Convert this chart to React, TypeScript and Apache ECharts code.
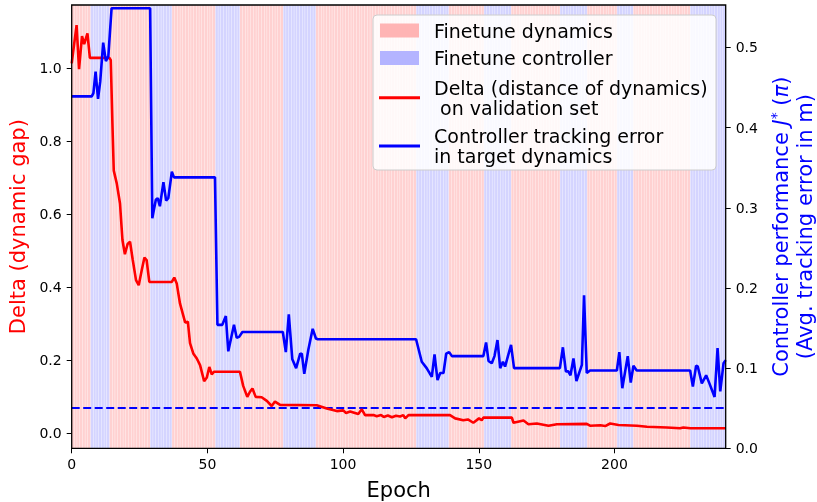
import React, { useEffect, useRef } from 'react';
import * as echarts from 'echarts';

const FONT = 'DejaVu Sans';

const deltaEpochs = [0, 1.8, 2.7, 3.8, 4.6, 5.8, 6.7, 13.9, 14.4, 15.0, 15.5, 16.6, 17.8, 18.7, 19.6, 20.6, 21.5, 22.5, 23.7, 24.7, 25.8, 26.8, 27.6, 28.6, 36.9, 37.8, 38.7, 39.9, 40.9, 41.8, 42.8, 43.6, 44.8, 46.1, 47.3, 48.8, 49.8, 50.7, 51.6, 52.5, 62, 63.2, 64.7, 65.7, 66.6, 67.8, 70, 71.9, 73.7, 74.9, 76.8, 90.3, 94, 97.7, 100, 101.1, 102.6, 105.6, 106.9, 108.1, 111.2, 112.4, 114, 115, 116.5, 118, 119.5, 121, 122.2, 122.9, 124.1, 139.4, 141.3, 144.3, 146, 148, 150.1, 151.1, 151.7, 162.2, 162.8, 166.5, 168.3, 171.4, 175.7, 178.8, 189.8, 191, 194.8, 196.6, 198.4, 201.5, 208.3, 212, 219.3, 224.2, 225.4, 228, 241];
const deltaValues = [1.014, 1.119, 0.998, 1.089, 1.067, 1.096, 1.029, 1.029, 1.023, 0.85, 0.72, 0.685, 0.63, 0.53, 0.491, 0.519, 0.525, 0.475, 0.42, 0.406, 0.447, 0.482, 0.475, 0.415, 0.415, 0.427, 0.411, 0.356, 0.329, 0.304, 0.306, 0.247, 0.219, 0.205, 0.187, 0.143, 0.153, 0.182, 0.162, 0.169, 0.169, 0.13, 0.1, 0.114, 0.123, 0.1, 0.099, 0.089, 0.075, 0.087, 0.078, 0.077, 0.068, 0.061, 0.063, 0.056, 0.06, 0.053, 0.066, 0.05, 0.05, 0.047, 0.05, 0.045, 0.049, 0.044, 0.048, 0.046, 0.05, 0.041, 0.05, 0.05, 0.041, 0.036, 0.038, 0.029, 0.041, 0.036, 0.043, 0.043, 0.029, 0.035, 0.025, 0.027, 0.021, 0.025, 0.026, 0.021, 0.022, 0.02, 0.027, 0.023, 0.021, 0.018, 0.016, 0.014, 0.016, 0.014, 0.014];

const ctrlEpochs = [0, 7.4, 8, 8.8, 9.7, 10.5, 11.6, 12.6, 13.5, 14.7, 28.9, 29.7, 31, 31.7, 32.5, 33.8, 34.8, 35.6, 36.9, 37.7, 52.8, 53.7, 55.5, 56.8, 57.7, 59.8, 60.8, 61.7, 62.9, 77.8, 78.9, 80, 81.3, 82.7, 84.2, 84.8, 85.7, 87.2, 88.8, 90, 90.7, 126.9, 129, 130.8, 132.7, 133.7, 134.8, 135.8, 137, 138, 139.1, 140.1, 151.7, 152.7, 153.6, 154.8, 155.8, 156.9, 157.9, 158.9, 159.7, 161.9, 163, 179.9, 181, 182.1, 183, 183.8, 184.9, 186, 188, 188.8, 189.8, 191, 200.9, 201.8, 202.9, 204.9, 206, 207, 208.2, 227.9, 228.9, 230.1, 230.7, 232.2, 233.8, 235, 236.9, 238, 239, 240.2, 241];
const ctrlValues = [0.439, 0.439, 0.443, 0.47, 0.436, 0.457, 0.506, 0.483, 0.489, 0.549, 0.549, 0.287, 0.31, 0.312, 0.302, 0.332, 0.309, 0.312, 0.345, 0.338, 0.338, 0.154, 0.154, 0.165, 0.121, 0.154, 0.138, 0.139, 0.145, 0.145, 0.12, 0.167, 0.111, 0.1, 0.118, 0.118, 0.093, 0.123, 0.149, 0.137, 0.136, 0.136, 0.108, 0.1, 0.089, 0.117, 0.085, 0.094, 0.094, 0.118, 0.12, 0.115, 0.115, 0.132, 0.109, 0.106, 0.115, 0.135, 0.1, 0.108, 0.102, 0.129, 0.1, 0.1, 0.126, 0.096, 0.096, 0.091, 0.112, 0.084, 0.104, 0.191, 0.094, 0.097, 0.097, 0.12, 0.075, 0.115, 0.082, 0.103, 0.097, 0.097, 0.077, 0.103, 0.102, 0.081, 0.091, 0.081, 0.064, 0.125, 0.071, 0.106, 0.11];

const controllerPhases = [[7, 14], [29, 37], [53, 62], [78, 90], [127, 139], [152, 162], [180, 190], [201, 207], [228, 241]];
const totalEpochs = 241;
const trackingThreshold = 0.05;
const xTicks = [0, 50, 100, 150, 200];
const leftTicks = [0, 0.2, 0.4, 0.6, 0.8, 1.0];
const rightTicks = [0, 0.1, 0.2, 0.3, 0.4, 0.5];

const legendItems = [
  { kind: 'patch', color: '#ffb4b4', label: 'Finetune dynamics' },
  { kind: 'patch', color: '#b4b4ff', label: 'Finetune controller' },
  { kind: 'line', color: '#ff0000', label: 'Delta (distance of dynamics)\n on validation set' },
  { kind: 'line', color: '#0000ff', label: 'Controller tracking error\nin target dynamics' },
];

export default function App() {
  const ref = useRef<HTMLDivElement>(null);
  useEffect(() => {
    if (!ref.current) return;
    const chart = echarts.init(ref.current, undefined, { renderer: 'svg' });

    const bgData: number[][] = [];
    for (let e = 0; e < totalEpochs; e++) {
      const isCtrl = controllerPhases.some(([a, b]) => e >= a && e < b) ? 1 : 0;
      bgData.push([e, isCtrl]);
    }

    const legendY = [30.5, 58, 97.7, 146];
    const legendGraphics: any[] = [
      {
        type: 'rect', shape: { x: 373, y: 15, width: 343, height: 155, r: 4 },
        style: { fill: 'rgba(255,255,255,0.85)', stroke: '#cccccc', lineWidth: 1 }, z: 100,
      },
    ];
    legendItems.forEach((it, i) => {
      const cy = legendY[i];
      if (it.kind === 'patch') {
        legendGraphics.push({ type: 'rect', shape: { x: 380, y: cy - 7, width: 39, height: 14 }, style: { fill: it.color }, z: 101 });
      } else {
        legendGraphics.push({ type: 'line', shape: { x1: 379, y1: cy, x2: 420, y2: cy }, style: { stroke: it.color, lineWidth: 3 }, z: 101 });
      }
      legendGraphics.push({
        type: 'text', x: 434, y: cy, z: 101,
        style: { text: it.label, font: `19px "${FONT}"`, fill: '#000', verticalAlign: 'middle', align: 'left', lineHeight: 20 },
      });
    });

    const option: any = {
      animation: false,
      textStyle: { fontFamily: FONT },
      grid: { left: 71.7, right: 91.3, top: 5, bottom: 53.7, show: true, borderColor: '#000', borderWidth: 1.3, backgroundColor: 'transparent', z: 10, outerBoundsMode: 'none' },
      xAxis: {
        type: 'value', min: 0, max: totalEpochs, interval: 50,
        name: 'Epoch', nameLocation: 'middle', nameGap: 31,
        nameTextStyle: { fontSize: 21, fontFamily: FONT, color: '#000' },
        axisLine: { show: false, onZero: false },
        axisTick: { show: true, length: 5, lineStyle: { color: '#000' }, customValues: xTicks },
        axisLabel: { fontSize: 14, fontFamily: FONT, color: '#000', margin: 9, customValues: xTicks },
        splitLine: { show: false },
      },
      yAxis: [
        {
          type: 'value', min: -0.041, max: 1.174, position: 'left',
          name: 'Delta (dynamic gap)', nameLocation: 'middle', nameRotate: 90, nameGap: 43,
          nameTextStyle: { fontSize: 21, fontFamily: FONT, color: '#ff0000' },
          axisLine: { show: false, onZero: false },
          axisTick: { show: true, length: 5, lineStyle: { color: '#000' }, customValues: leftTicks },
          axisLabel: { fontSize: 14, fontFamily: FONT, color: '#000', margin: 10, customValues: leftTicks, formatter: (v: number) => v.toFixed(1) },
          splitLine: { show: false },
        },
        {
          type: 'value', min: 0, max: 0.553, position: 'right',
          name: '{a|Controller performance }{i|J}{s|*}{a| (}{i|π}{a|)}\n{a|(Avg. tracking error in m)}',
          nameLocation: 'middle', nameRotate: 90, nameGap: 41,
          nameTextStyle: {
            fontSize: 21, fontFamily: FONT, color: '#0000ff', lineHeight: 24,
            rich: {
              a: { fontSize: 21, fontFamily: FONT, color: '#0000ff', lineHeight: 24 },
              i: { fontSize: 21, fontFamily: FONT, color: '#0000ff', fontStyle: 'italic', lineHeight: 24 },
              s: { fontSize: 14, fontFamily: FONT, color: '#0000ff', verticalAlign: 'top', lineHeight: 24 },
            },
          },
          axisLine: { show: false, onZero: false },
          axisTick: { show: true, length: 5, lineStyle: { color: '#000' }, customValues: rightTicks },
          axisLabel: { fontSize: 14, fontFamily: FONT, color: '#000', margin: 10, customValues: rightTicks, formatter: (v: number) => v.toFixed(1) },
          splitLine: { show: false },
        },
      ],
      graphic: legendGraphics,
      series: [
        {
          type: 'custom', xAxisIndex: 0, yAxisIndex: 0, z: 1, clip: true, silent: true,
          data: bgData,
          renderItem: (params: any, api: any) => {
            const e = api.value(0);
            const ph = api.value(1);
            const p0 = api.coord([e, 0]);
            const p1 = api.coord([Math.min(e + 1, totalEpochs), 0]);
            const cs = params.coordSys;
            return {
              type: 'rect',
              shape: { x: p0[0], y: cs.y, width: Math.max(p1[0] - p0[0] - 0.35, 0.5), height: cs.height },
              style: { fill: ph ? 'rgba(0,0,255,0.17)' : 'rgba(255,0,0,0.18)' },
            };
          },
        },
        {
          type: 'line', name: 'Delta', xAxisIndex: 0, yAxisIndex: 0, z: 5,
          data: deltaEpochs.map((x, i) => [x, deltaValues[i]]),
          showSymbol: false, symbol: 'none',
          lineStyle: { color: '#ff0000', width: 2.6 },
        },
        {
          type: 'line', name: 'Controller', xAxisIndex: 0, yAxisIndex: 1, z: 5,
          data: ctrlEpochs.map((x, i) => [x, ctrlValues[i]]),
          showSymbol: false, symbol: 'none',
          lineStyle: { color: '#0000ff', width: 2.6 },
          markLine: {
            silent: true, symbol: 'none', label: { show: false },
            lineStyle: { color: '#0000ff', type: [8, 3.5], width: 2 },
            data: [{ yAxis: trackingThreshold }],
          },
        },
      ],
    };
    chart.setOption(option);
    return () => chart.dispose();
  }, []);
  return <div ref={ref} style={{ position: 'fixed', left: 0, top: 0, width: 817, height: 502 }} />;
}
